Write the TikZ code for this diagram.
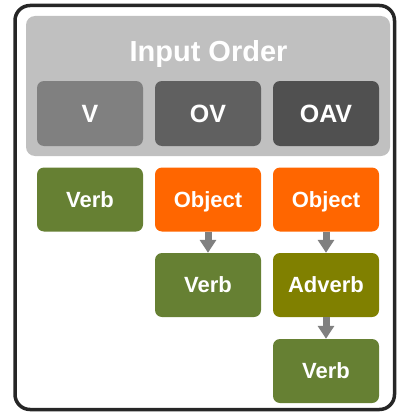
\documentclass[tikz,border=0pt]{standalone}
\usepackage{fontspec}
\setmainfont{Liberation Sans}
\usetikzlibrary{arrows.meta}
\definecolor{panelgray}{HTML}{C0C0C0}
\definecolor{hV}{HTML}{808080}
\definecolor{hOV}{HTML}{606060}
\definecolor{hOAV}{HTML}{505050}
\definecolor{verbgreen}{HTML}{668033}
\definecolor{objorange}{HTML}{FF6600}
\definecolor{advolive}{HTML}{808000}
\definecolor{arrowgray}{HTML}{808080}
\definecolor{framedark}{HTML}{262626}
\tikzset{
  hdrbox/.style={rectangle, rounded corners=7pt, minimum width=106pt, minimum height=65pt,
    inner sep=0pt, text=white, font=\bfseries\fontsize{25}{30}\selectfont,
    text height=17.9pt, text depth=0pt},
  wordbox/.style={rectangle, rounded corners=7pt, minimum width=106pt, minimum height=64pt,
    inner sep=0pt, text=white, font=\bfseries\fontsize{22}{26}\selectfont,
    text height=15.8pt, text depth=0pt},
  flowarrow/.style={draw=arrowgray, line width=7pt, -{Triangle[width=16pt,length=13pt]}, arrowgray}
}
\begin{document}
\begin{tikzpicture}[x=1pt,y=-1pt]
\useasboundingbox (0,0) rectangle (396,412);
% outer frame
\draw[framedark, line width=3.5pt, rounded corners=15pt] (15,5.5) rectangle (394.5,409.5);
% panel
\node[fill=panelgray, rounded corners=9pt, minimum width=364pt, minimum height=140pt, inner sep=0pt] (panel) at (208,86) {};
\node[text=white, font=\bfseries\fontsize{29}{34}\selectfont, anchor=base, inner sep=0pt] (title) at (208.5,61) {Input Order};
% header boxes
\node[hdrbox, fill=hV] (hv) at (90,113.5) {V};
\node[hdrbox, fill=hOV] (hov) at (208,113.5) {OV};
\node[hdrbox, fill=hOAV] (hoav) at (326,113.5) {OAV};
% row 1
\node[wordbox, fill=verbgreen] (v1) at (90,199.5) {Verb};
\node[wordbox, fill=objorange] (o2) at (208,199.5) {Object};
\node[wordbox, fill=objorange] (o3) at (326,199.5) {Object};
% row 2
\node[wordbox, fill=verbgreen] (v2) at (208,285) {Verb};
\node[wordbox, fill=advolive] (a3) at (326,285) {Adverb};
% row 3
\node[wordbox, fill=verbgreen] (v3) at (326,371) {Verb};
% arrows
\draw[flowarrow] (o2.south) -- (v2.north);
\draw[flowarrow] (o3.south) -- (a3.north);
\draw[flowarrow] (a3.south) -- (v3.north);
\end{tikzpicture}
\end{document}
